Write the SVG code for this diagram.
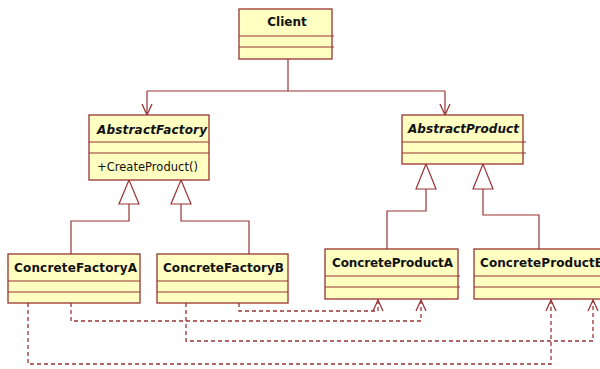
<svg xmlns="http://www.w3.org/2000/svg" width="600" height="369" viewBox="0 0 600 369">
<style>
.box{fill:#FFFFC2;stroke:#993333;stroke-width:1.3}
.sep{stroke:#993333;stroke-width:1.1;fill:none}
.t{font-family:"DejaVu Sans",Verdana,sans-serif;font-size:11.5px;fill:#111}
.b{font-weight:bold;font-size:12px}
.i{font-style:italic}
.ln{fill:none;stroke:#993333;stroke-width:1.2}
.dash{fill:none;stroke:#993333;stroke-width:1.3;stroke-dasharray:4,3}
.tri{fill:#fff;stroke:#993333;stroke-width:1.2}
</style>
<defs>
<marker id="open" markerUnits="userSpaceOnUse" markerWidth="14" markerHeight="14" viewBox="-12 -7 14 14" refX="0" refY="0" orient="auto" overflow="visible">
<path d="M-11,-5 L0,0 L-11,5" fill="none" stroke="#993333" stroke-width="1.3"/>
</marker>
</defs>
<rect width="600" height="369" fill="#fff"/>
<g id="connectors">
<path class="ln" d="M288,59 V91 M147,91 H445"/>
<path class="ln" d="M147,91 V115" marker-end="url(#open)"/>
<path class="ln" d="M445,91 V115" marker-end="url(#open)"/>
<path class="ln" d="M129,204 V221 H71 V254"/>
<path class="ln" d="M181,204 V221 H249 V254"/>
<polygon class="tri" points="129,180 119,204 139,204"/>
<polygon class="tri" points="181,180 171,204 191,204"/>
<path class="ln" d="M426,189 V211 H387 V249"/>
<path class="ln" d="M483,189 V215 H539 V249"/>
<polygon class="tri" points="426,164 416,189 436,189"/>
<polygon class="tri" points="483,164 473,189 493,189"/>
<path class="dash" d="M239,303 V311 H378 V300" marker-end="url(#open)"/>
<path class="dash" d="M71,303 V321 H421 V300" marker-end="url(#open)"/>
<path class="dash" d="M186,303 V341 H593 V300" marker-end="url(#open)"/>
<path class="dash" d="M28,303 V364 H551 V300" marker-end="url(#open)"/>
</g>
<g id="Client">
<rect class="box" x="239" y="9" width="93" height="50"/>
<path class="sep" d="M239,36 H334 M239,47 H334"/>
<text class="t b" x="287" y="26" text-anchor="middle">Client</text>
</g>
<g id="AbstractFactory">
<rect class="box" x="89" y="115" width="120" height="65"/>
<path class="sep" d="M89,142 H209 M89,153 H209"/>
<text class="t b i" x="97" y="134" textLength="110">AbstractFactory</text>
<text class="t" x="97" y="171" textLength="101">+CreateProduct()</text>
</g>
<g id="AbstractProduct">
<rect class="box" x="402" y="115" width="121" height="49"/>
<path class="sep" d="M402,142 H526 M402,153 H526"/>
<text class="t b i" x="408" y="133" textLength="111">AbstractProduct</text>
</g>
<g id="ConcreteFactoryA">
<rect class="box" x="8" y="254" width="132" height="49"/>
<path class="sep" d="M8,281 H140 M8,292 H140"/>
<text class="t b" x="14" y="272" textLength="123">ConcreteFactoryA</text>
</g>
<g id="ConcreteFactoryB">
<rect class="box" x="157" y="254" width="131" height="49"/>
<path class="sep" d="M157,281 H288 M157,292 H288"/>
<text class="t b" x="163" y="272" textLength="121">ConcreteFactoryB</text>
</g>
<g id="ConcreteProductA">
<rect class="box" x="325" y="249" width="133" height="50"/>
<path class="sep" d="M325,276 H460 M325,287 H460"/>
<text class="t b" x="332" y="267" textLength="121">ConcreteProductA</text>
</g>
<g id="ConcreteProductB">
<rect class="box" x="474" y="249" width="140" height="50"/>
<path class="sep" d="M474,276 H614 M474,287 H614"/>
<text class="t b" x="480" y="267" textLength="124">ConcreteProductB</text>
</g>
</svg>
